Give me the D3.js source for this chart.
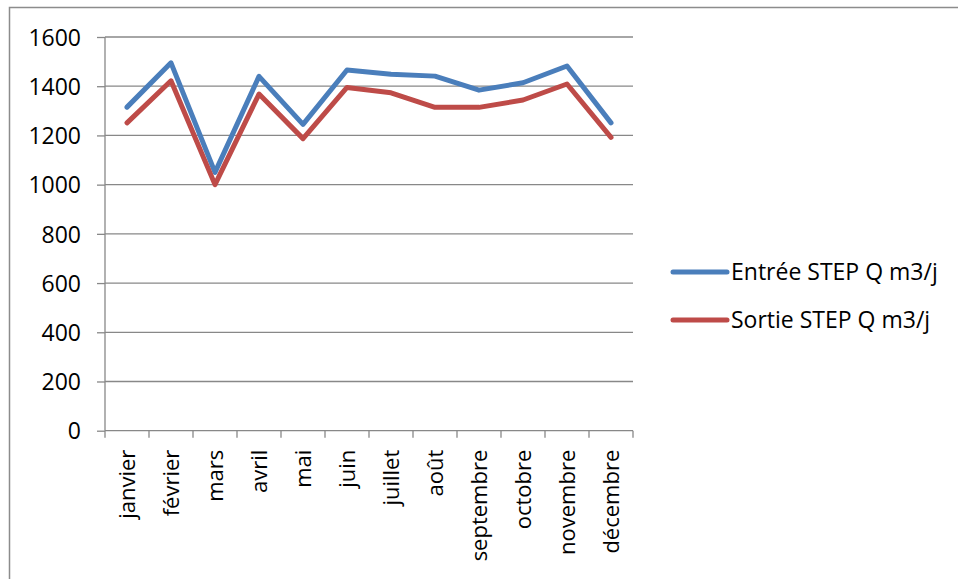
<!DOCTYPE html>
<html>
<head>
<meta charset="utf-8">
<script src="https://cdn.jsdelivr.net/npm/d3@7"></script>
<style>
  html, body { margin: 0; padding: 0; background: #fff; }
  svg { display: block; }
  text { font-family: "Open Sans", "Liberation Sans", sans-serif; fill: #000; }
</style>
</head>
<body>
<svg id="chart" width="958" height="579"></svg>
<script>
// Monthly flow at the treatment plant (m3/day)
const months = ["janvier", "février", "mars", "avril", "mai", "juin",
                "juillet", "août", "septembre", "octobre", "novembre", "décembre"];
const entree = [1315, 1495, 1050, 1440, 1245, 1466, 1449, 1441, 1384, 1414, 1482, 1251];
const sortie = [1251, 1422, 1000, 1368, 1187, 1395, 1373, 1314, 1314, 1344, 1409, 1192];
const yTicks = [0, 200, 400, 600, 800, 1000, 1200, 1400, 1600];
const seriesNames = ["Entrée STEP Q m3/j", "Sortie STEP Q m3/j"];
const seriesColors = ["#4a7ebb", "#be4b48"];

const svg = d3.select("#chart");
const plot = { left: 105, right: 633, top: 37, bottom: 430.7 };

// outer chart frame (open towards the bottom-right edge)
svg.append("rect")
  .attr("x", 9.5).attr("y", 7.5)
  .attr("width", 1000).attr("height", 1000)
  .attr("fill", "none").attr("stroke", "#8c8c8c").attr("stroke-width", 1.5);

const x = d3.scalePoint().domain(months)
  .range([plot.left, plot.right]).padding(0.5);
const xBand = d3.scaleBand().domain(months).range([plot.left, plot.right]);
const y = d3.scaleLinear().domain([0, 1600]).range([plot.bottom, plot.top]);

// horizontal gridlines
svg.append("g").selectAll("line").data(yTicks.slice(1)).join("line")
  .attr("x1", plot.left).attr("x2", plot.right)
  .attr("y1", d => y(d)).attr("y2", d => y(d))
  .attr("stroke", "#888").attr("stroke-width", 1.3);

// y axis
const yAxis = svg.append("g")
  .attr("transform", `translate(${plot.left},0)`)
  .call(d3.axisLeft(y).tickValues(yTicks).tickSize(8).tickPadding(16).tickFormat(d3.format("d")));
yAxis.select(".domain").attr("stroke", "#888").attr("stroke-width", 1.3)
  .attr("d", `M0,${plot.top}V${plot.bottom}`);
yAxis.selectAll(".tick line").attr("stroke", "#888").attr("stroke-width", 1.3);
yAxis.selectAll(".tick text").style("font-size", "23px").attr("dy", "0.36em");

// x axis: ticks on category boundaries, labels rotated
const xg = svg.append("g").attr("transform", `translate(0,${plot.bottom})`);
xg.append("line").attr("x1", plot.left).attr("x2", plot.right)
  .attr("stroke", "#888").attr("stroke-width", 1.3);
const bounds = months.map(m => xBand(m)).concat([plot.right]);
xg.selectAll("line.tk").data(bounds).join("line").attr("class", "tk")
  .attr("x1", d => d).attr("x2", d => d).attr("y1", 0).attr("y2", 7)
  .attr("stroke", "#888").attr("stroke-width", 1.3);
xg.selectAll("text").data(months).join("text")
  .attr("transform", d => `translate(${x(d) + 8},${19}) rotate(-90)`)
  .attr("text-anchor", "end")
  .style("font-size", "22px")
  .text(d => d);

// series lines
const line = d3.line().x((d, i) => x(months[i])).y(d => y(d));
[entree, sortie].forEach((vals, k) => {
  svg.append("path").datum(vals)
    .attr("d", line)
    .attr("fill", "none")
    .attr("stroke", seriesColors[k])
    .attr("stroke-width", 5)
    .attr("stroke-linejoin", "round")
    .attr("stroke-linecap", "round");
});

// legend
const legend = svg.append("g");
seriesNames.forEach((name, k) => {
  const ly = 272 + k * 48;
  legend.append("line")
    .attr("x1", 673).attr("x2", 727).attr("y1", ly).attr("y2", ly)
    .attr("stroke", seriesColors[k]).attr("stroke-width", 5)
    .attr("stroke-linecap", "round");
  legend.append("text")
    .attr("x", 731).attr("y", ly).attr("dy", "0.36em")
    .style("font-size", "23px")
    .text(name);
});
</script>
</body>
</html>
